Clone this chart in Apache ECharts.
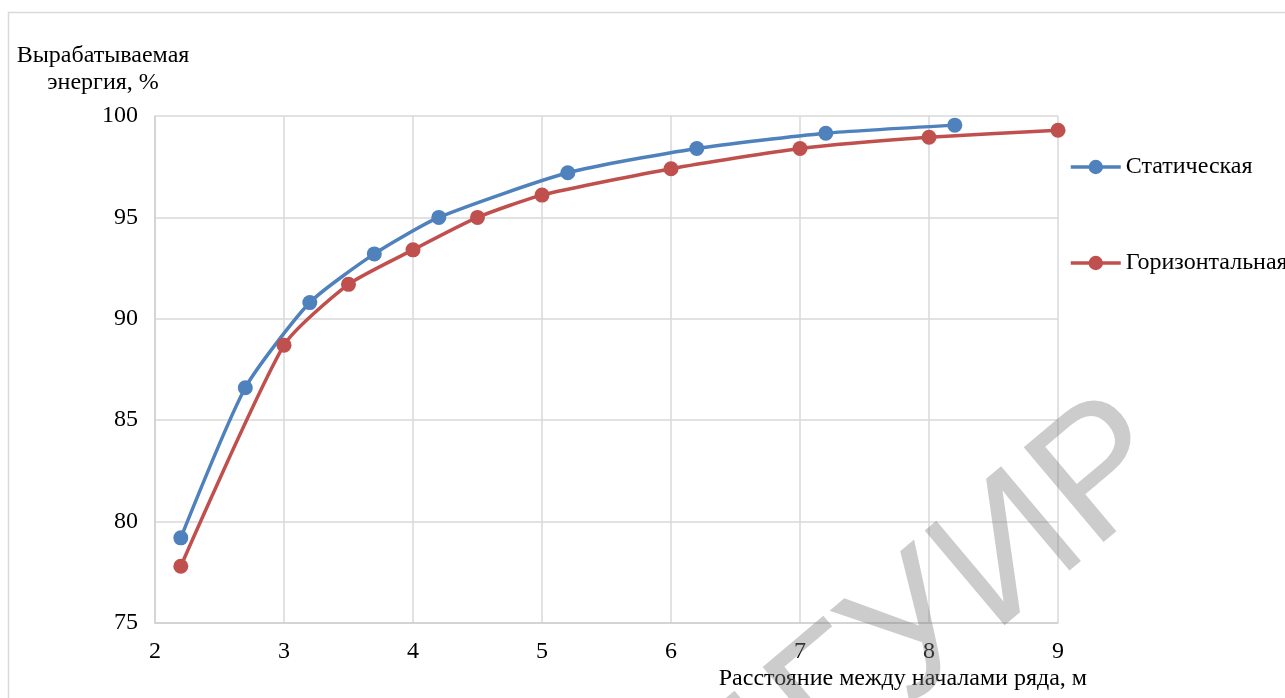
<!DOCTYPE html>
<html>
<head>
<meta charset="utf-8">
<script src="https://cdn.jsdelivr.net/npm/echarts@6/dist/echarts.min.js"></script>
<style>
  html, body { margin: 0; padding: 0; background: #fff; }
  #chart { width: 1285px; height: 698px; }
</style>
</head>
<body>
<div id="chart"></div>
<script>
// данные
var staticX = [2.2, 2.7, 3.2, 3.7, 4.2, 5.2, 6.2, 7.2, 8.2];
var staticY = [79.2, 86.6, 90.8, 93.2, 95.0, 97.2, 98.4, 99.15, 99.55];
var horizX = [2.2, 3.0, 3.5, 4.0, 4.5, 5.0, 6.0, 7.0, 8.0, 9.0];
var horizY = [77.8, 88.7, 91.7, 93.4, 95.0, 96.1, 97.4, 98.4, 98.95, 99.3];
var seriesNames = ["Статическая", "Горизонтальная"];

function pairs(xs, ys) {
  return xs.map(function (x, i) { return [x, ys[i]]; });
}

var font = "'Liberation Serif', 'Times New Roman', serif";
var chart = echarts.init(document.getElementById("chart"));

var option = {
  backgroundColor: "#fff",
  textStyle: { fontFamily: font },
  grid: { left: 155, right: 227, top: 116, bottom: 75 },
  legend: {
    orient: "vertical",
    left: 1064,
    top: 150,
    itemGap: 72,
    itemWidth: 50,
    itemHeight: 18,
    lineStyle: { width: 3.5 },
    textStyle: { fontFamily: font, fontSize: 24, color: "#000" },
    data: seriesNames
  },
  xAxis: {
    type: "value",
    min: 2,
    max: 9,
    interval: 1,
    name: "Расстояние между началами ряда, м",
    nameLocation: "end",
    nameGap: 0,
    nameTextStyle: {
      fontFamily: font, fontSize: 24, color: "#000",
      align: "right", verticalAlign: "top", padding: [44, -29, 0, 0]
    },
    axisLine: { lineStyle: { color: "#d0d0d0", width: 1.5 } },
    axisTick: { show: false },
    axisLabel: { fontFamily: font, fontSize: 24, color: "#000", margin: 17 },
    splitLine: { show: true, lineStyle: { color: "#d9d9d9", width: 1.5 } }
  },
  yAxis: {
    type: "value",
    min: 75,
    max: 100,
    interval: 5,
    name: "Вырабатываемая\nэнергия, %",
    nameLocation: "end",
    nameGap: 20,
    nameTextStyle: {
      fontFamily: font, fontSize: 24, color: "#000",
      align: "center", lineHeight: 27, padding: [0, 104, 0, 0]
    },
    axisLine: { show: true, lineStyle: { color: "#d0d0d0", width: 1.5 } },
    axisTick: { show: false },
    axisLabel: { fontFamily: font, fontSize: 24, color: "#000", margin: 17 },
    splitLine: { show: true, lineStyle: { color: "#d9d9d9", width: 1.5 } }
  },
  graphic: [
    {
      type: "rect",
      left: 6, top: 10,
      shape: { width: 1300, height: 700 },
      style: { fill: "none", stroke: "#d9d9d9", lineWidth: 1.5 },
      z: -1
    },
    {
      // водяной знак
      type: "text",
      x: 1210, y: 505,
      rotation: 0.7,
      style: {
        text: "БГУИР",
        font: "180px 'Liberation Sans', sans-serif",
        fill: "rgba(128,128,128,0.4)",
        align: "right",
        verticalAlign: "bottom"
      },
      z: 100
    }
  ],
  series: [
    {
      name: seriesNames[0],
      type: "line",
      smooth: 0.2,
      data: pairs(staticX, staticY),
      symbol: "circle",
      symbolSize: 15,
      lineStyle: { color: "#4f81bd", width: 3.5 },
      itemStyle: { color: "#4f81bd" }
    },
    {
      name: seriesNames[1],
      type: "line",
      smooth: 0.2,
      data: pairs(horizX, horizY),
      symbol: "circle",
      symbolSize: 15,
      lineStyle: { color: "#c0504d", width: 3.5 },
      itemStyle: { color: "#c0504d" }
    }
  ]
};

chart.setOption(option);
</script>
</body>
</html>
